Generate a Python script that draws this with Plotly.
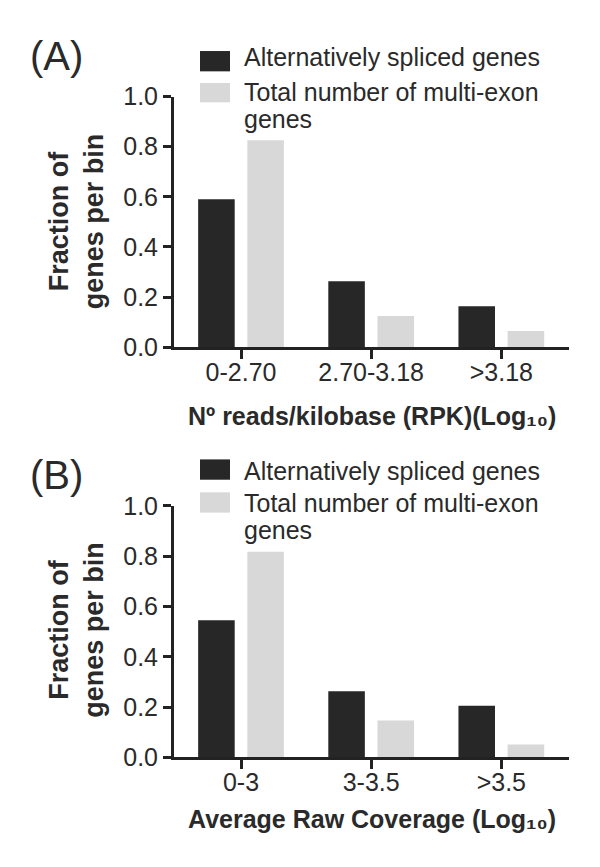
import plotly.graph_objects as go

# ---------------- data ----------------
series_names = ["Alternatively spliced genes", "Total number of multi-exon<br>genes"]
categories_a = ["0-2.70", "2.70-3.18", ">3.18"]
alt_spliced_a = [0.59, 0.263, 0.163]
multi_exon_a = [0.825, 0.124, 0.064]

categories_b = ["0-3", "3-3.5", ">3.5"]
alt_spliced_b = [0.545, 0.263, 0.205]
multi_exon_b = [0.818, 0.147, 0.051]

y_ticks = [0.0, 0.2, 0.4, 0.6, 0.8, 1.0]
panel_labels = ["(A)", "(B)"]
x_titles = ["Nº reads/kilobase (RPK)(Log₁₀)",
            "Average Raw Coverage (Log₁₀)"]
y_title = "Fraction of<br>genes per bin"

# ---------------- style ----------------
W, H = 600, 867
DARK = "#272727"
LIGHT = "#d8d8d8"
AXC = "#222222"
TXT = "#2a2a2a"
FONT = "Liberation Sans, Arial, sans-serif"


def fx(px):
    return px / W


def fy(py):
    return 1 - py / H


fig = go.Figure()

panels = [
    dict(cats=categories_a, a=alt_spliced_a, b=multi_exon_a, xa="x", ya="y",
         lab=35, sw1=(30, 51), sw2=(63, 83), t1=36, t2=72.5, t3=100, xt=407, yt=206),
    dict(cats=categories_b, a=alt_spliced_b, b=multi_exon_b, xa="x2", ya="y2",
         lab=468, sw1=(452, 473), sw2=(486, 507), t1=464, t2=497.5, t3=525, xt=824, yt=628),
]

for p in panels:
    fig.add_trace(go.Bar(x=p["cats"], y=p["a"], name=series_names[0], marker_color=DARK,
                         marker_line_width=0, xaxis=p["xa"], yaxis=p["ya"], showlegend=False))
    fig.add_trace(go.Bar(x=p["cats"], y=p["b"], name=series_names[1], marker_color=LIGHT,
                         marker_line_width=0, xaxis=p["xa"], yaxis=p["ya"], showlegend=False))

x_dom = [fx(166), fx(561)]
common_x = dict(domain=x_dom, range=[-0.515, 2.52], showline=True, linewidth=3, linecolor=AXC,
                ticks="outside", ticklen=9, tickwidth=3, tickcolor=AXC, showgrid=False,
                zeroline=False, tickfont=dict(size=25, color=TXT, family=FONT), fixedrange=True,
                ticklabelstandoff=-8)
common_y = dict(range=[0, 1.0], showline=True, linewidth=3, linecolor=AXC,
                ticks="outside", ticklen=8, tickwidth=3, tickcolor=AXC, showgrid=False,
                zeroline=False, tickvals=y_ticks, ticktext=[f"{v:.1f}" for v in y_ticks],
                tickfont=dict(size=25, color=TXT, family=FONT), fixedrange=True)

annotations = []
shapes = []


def note(text, x, y, xanchor="left", yanchor="middle", size=25, angle=0, weight="normal"):
    annotations.append(dict(text=text, x=fx(x), y=fy(y), xref="paper", yref="paper",
                            xanchor=xanchor, yanchor=yanchor, showarrow=False, align="center",
                            textangle=angle,
                            font=dict(size=size, color=TXT, family=FONT, weight=weight)))


y_lines = y_title.split("<br>")
line_a, line_b = series_names[1].split("<br>")

for i, p in enumerate(panels):
    note(panel_labels[i], 20, p["lab"], size=40)
    note(y_lines[0], 51, p["yt"], xanchor="center", size=27, angle=-90, weight="bold")
    note(y_lines[1], 86, p["yt"], xanchor="center", size=27, angle=-90, weight="bold")
    note(x_titles[i], 364, p["xt"], xanchor="center", weight="bold")
    shapes.append(dict(type="rect", xref="paper", yref="paper", x0=fx(192), x1=fx(222),
                       y0=fy(p["sw1"][1]), y1=fy(p["sw1"][0]), fillcolor=DARK, line_width=0))
    shapes.append(dict(type="rect", xref="paper", yref="paper", x0=fx(192), x1=fx(222),
                       y0=fy(p["sw2"][1]), y1=fy(p["sw2"][0]), fillcolor=LIGHT, line_width=0))
    note(series_names[0], 234, p["t1"])
    note(line_a, 234, p["t2"])
    note(line_b, 234, p["t3"])

fig.update_layout(
    width=W, height=H,
    margin=dict(l=0, r=0, t=0, b=0),
    paper_bgcolor="white", plot_bgcolor="white",
    barmode="group", bargap=0.244, bargroupgap=0.257,
    xaxis=dict(common_x, anchor="y"),
    yaxis=dict(common_y, domain=[fy(336), fy(77)], anchor="x"),
    xaxis2=dict(common_x, anchor="y2"),
    yaxis2=dict(common_y, domain=[fy(760), fy(500)], anchor="x2"),
    annotations=annotations,
    shapes=shapes,
    font=dict(family=FONT, color=TXT),
)

fig.write_html("out.html")
